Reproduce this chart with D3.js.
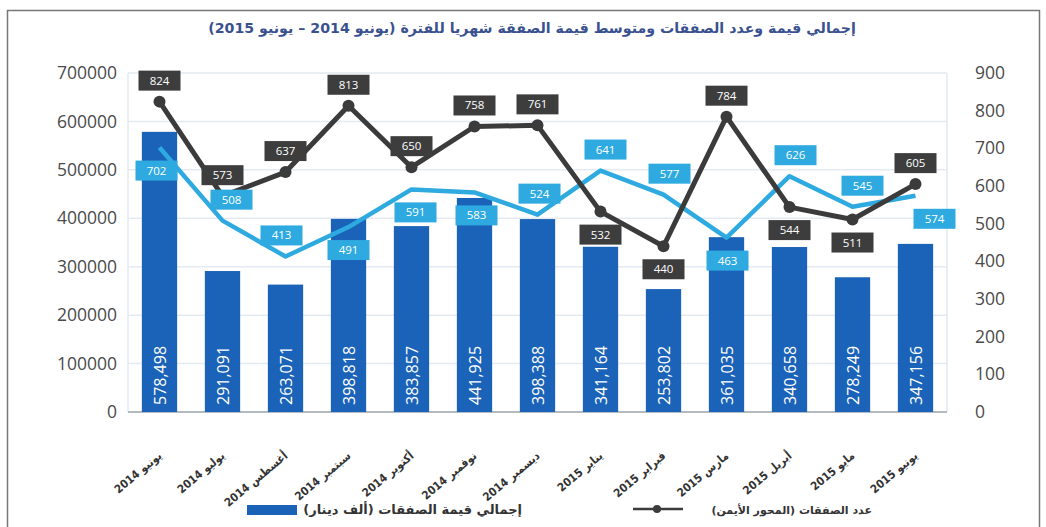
<html>
<head>
  <meta charset="utf-8" />
  <script src="https://cdnjs.cloudflare.com/ajax/libs/d3/7.8.5/d3.min.js"></script>
  <style>
    body { margin: 0; background: #fff; }
    .axis path.domain { stroke: none; }
    .axis .tick line { stroke: none; }
    .axis .tick text { fill: #4a4a4a; font-family: "Open Sans", sans-serif; font-size: 17.5px; }
  </style>
</head>
<body>
  <svg width="1046" height="527"></svg>
  <script>
    // months (x categories)
    var months = ["يونيو 2014", "يوليو 2014", "أغسطس 2014", "سبتمبر 2014", "أكتوبر 2014", "نوفمبر 2014",
                  "ديسمبر 2014", "يناير 2015", "فبراير 2015", "مارس 2015", "أبريل 2015", "مايو 2015", "يونيو 2015"]
    // total value of deals (thousand dinars) - bars, left axis
    var totalValue = [578498, 291091, 263071, 398818, 383857, 441925, 398388, 341164, 253802, 361035, 340658, 278249, 347156]
    // number of deals - grey line, right axis
    var dealCount = [824, 573, 637, 813, 650, 758, 761, 532, 440, 784, 544, 511, 605]
    // average deal value - light blue line, right axis
    var avgValue = [702, 508, 413, 491, 591, 583, 524, 641, 577, 463, 626, 545, 574]
    var leftTicks = [0, 100000, 200000, 300000, 400000, 500000, 600000, 700000]
    var rightTicks = [0, 100, 200, 300, 400, 500, 600, 700, 800, 900]

    // label placement (a = above, b = below)
    var countPos = ["a","a","a","a","a","a","a","b","b","a","b","b","a"]
    var avgPos   = ["b","a","a","b","b","b","a","a","a","b","a","a","b"]
    var avgShift = [-3, 9, -4, 0, 4, 2, 2, 5, 6, 1, 6, 10, 19]

    var svg = d3.select("svg")
    var arabic = "'DejaVu Sans', sans-serif"
    var arabicNarrow = "'DejaVu Sans Condensed', 'DejaVu Sans', sans-serif"

    // outer frame
    svg.append("rect").attr("x", 7.5).attr("y", 10.5).attr("width", 1032).attr("height", 530)
      .attr("fill", "none").attr("stroke", "#777").attr("stroke-width", 1.5)

    svg.append("text")
      .attr("x", 532).attr("y", 33)
      .attr("text-anchor", "middle")
      .attr("direction", "rtl")
      .style("font-family", arabic).style("font-size", "14.2px").style("font-weight", "bold")
      .attr("fill", "#3a5190")
      .text("إجمالي قيمة وعدد الصفقات ومتوسط قيمة الصفقة شهريا للفترة (يونيو 2014 – يونيو 2015)")

    var x0 = 128, x1 = 947, yTop = 73, yBot = 412

    var xScale = d3.scaleBand().domain(months).range([x0, x1]).paddingInner(0.44).paddingOuter(0.22)
    var yLeft = d3.scaleLinear().domain([0, 700000]).range([yBot, yTop])
    var yRight = d3.scaleLinear().domain([0, 900]).range([yBot, yTop])
    var cx = d => xScale(d) + xScale.bandwidth() / 2

    // gridlines
    svg.append("g").selectAll("line").data(leftTicks.slice(1)).enter().append("line")
      .attr("x1", x0).attr("x2", x1)
      .attr("y1", d => yLeft(d)).attr("y2", d => yLeft(d))
      .attr("stroke", "#e3eaf2").attr("stroke-width", 1.5)
    svg.append("line").attr("x1", x0).attr("x2", x0).attr("y1", yTop).attr("y2", yBot)
      .attr("stroke", "#e3eaf2").attr("stroke-width", 1.5)
    svg.append("line").attr("x1", x1).attr("x2", x1).attr("y1", yTop).attr("y2", yBot)
      .attr("stroke", "#e3eaf2").attr("stroke-width", 1.5)
    svg.append("line").attr("x1", x0).attr("x2", x1).attr("y1", yBot).attr("y2", yBot)
      .attr("stroke", "#9aa3ad").attr("stroke-width", 1.5)

    // axes
    svg.append("g").attr("class", "axis").attr("transform", "translate(" + x0 + ",0)")
      .call(d3.axisLeft(yLeft).tickValues(leftTicks).tickFormat(d3.format("d")).tickSize(0).tickPadding(11))
    svg.append("g").attr("class", "axis").attr("transform", "translate(" + x1 + ",0)")
      .call(d3.axisRight(yRight).tickValues(rightTicks).tickFormat(d3.format("d")).tickSize(0).tickPadding(28))

    // bars
    svg.append("g").selectAll("rect").data(totalValue).enter().append("rect")
      .attr("x", (d, i) => xScale(months[i]))
      .attr("y", d => yLeft(d))
      .attr("width", xScale.bandwidth())
      .attr("height", d => yBot - yLeft(d))
      .attr("fill", "#1b63b8")

    svg.append("g").selectAll("text").data(totalValue).enter().append("text")
      .attr("transform", (d, i) => "translate(" + (cx(months[i]) + 6) + "," + (yBot - 7) + ") rotate(-90)")
      .style("font-family", "'Open Sans', sans-serif").style("font-size", "16px")
      .attr("fill", "#fff")
      .text(d => d3.format(",")(d))

    // lines
    var countLine = d3.line().x((d, i) => cx(months[i])).y(d => yRight(d))
    svg.append("path").datum(avgValue).attr("d", countLine)
      .attr("fill", "none").attr("stroke", "#2eaae1").attr("stroke-width", 4.5).attr("stroke-linejoin", "round")
    svg.append("path").datum(dealCount).attr("d", countLine)
      .attr("fill", "none").attr("stroke", "#3b3b3b").attr("stroke-width", 5).attr("stroke-linejoin", "round")
    svg.append("g").selectAll("circle").data(dealCount).enter().append("circle")
      .attr("cx", (d, i) => cx(months[i])).attr("cy", d => yRight(d)).attr("r", 6)
      .attr("fill", "#3b3b3b")

    // value labels in boxes
    function boxes(data, pos, shift, color) {
      var g = svg.append("g").selectAll("g").data(data).enter().append("g")
        .attr("transform", function (d, i) {
          var lx = cx(months[i]) + (shift ? shift[i] : 0)
          var ly = yRight(d) + (pos[i] == "a" ? -21 : 23)
          return "translate(" + lx + "," + ly + ")"
        })
      g.append("rect").attr("x", -21).attr("y", -10).attr("width", 42).attr("height", 20).attr("fill", color)
      g.append("text").attr("text-anchor", "middle").attr("y", 4)
        .style("font-family", "'Open Sans', sans-serif").style("font-size", "11.5px")
        .attr("fill", "#fff").text(d => d)
    }
    boxes(avgValue, avgPos, avgShift, "#2eaae1")
    boxes(dealCount, countPos, null, "#3d3d3d")

    // month labels
    svg.append("g").selectAll("text").data(months).enter().append("text")
      .attr("transform", d => "translate(" + (cx(d) + 3) + ",457) rotate(-40)")
      .attr("direction", "rtl")
      .attr("text-anchor", "start")
      .style("font-family", arabicNarrow).style("font-size", "11.5px").style("font-weight", "bold")
      .attr("fill", "#333")
      .text(d => d)

    // legend
    var lg = svg.append("g")
    lg.append("rect").attr("x", 247).attr("y", 505).attr("width", 50).attr("height", 10).attr("fill", "#1b63b8")
    lg.append("text").attr("x", 522).attr("y", 514).attr("direction", "rtl").attr("text-anchor", "start")
      .style("font-family", arabic).style("font-size", "13px").style("font-weight", "bold").attr("fill", "#333")
      .text("إجمالي قيمة الصفقات (ألف دينار)")
    lg.append("line").attr("x1", 633).attr("x2", 683).attr("y1", 509).attr("y2", 509)
      .attr("stroke", "#3b3b3b").attr("stroke-width", 2.5)
    lg.append("circle").attr("cx", 657).attr("cy", 509).attr("r", 4).attr("fill", "#3b3b3b")
    lg.append("text").attr("x", 872).attr("y", 514).attr("direction", "rtl").attr("text-anchor", "start")
      .style("font-family", arabic).style("font-size", "11px").style("font-weight", "bold").attr("fill", "#333")
      .text("عدد الصفقات (المحور الأيمن)")
  </script>
</body>
</html>
